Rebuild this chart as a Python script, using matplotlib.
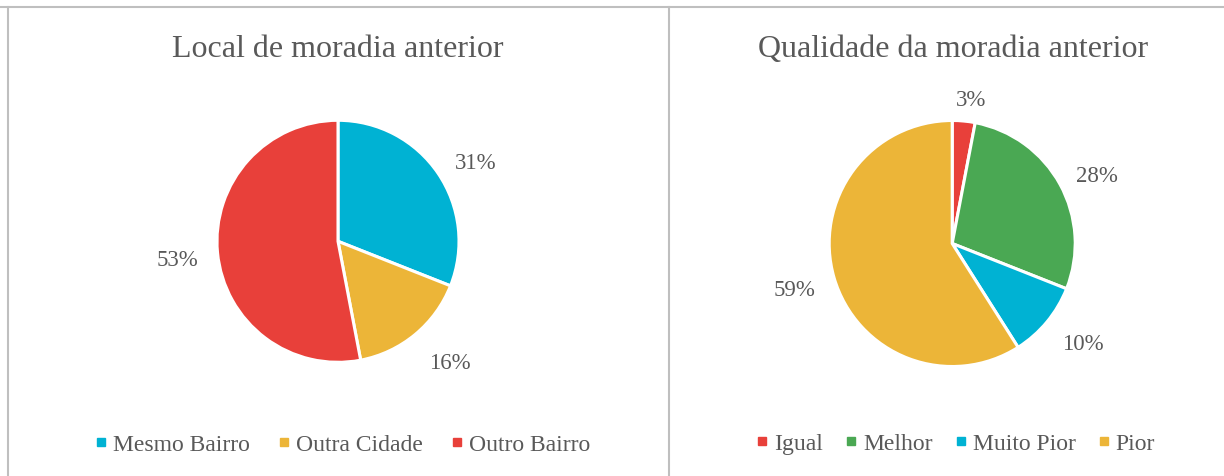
import math
import matplotlib
matplotlib.use("Agg")
import matplotlib.pyplot as plt
from matplotlib.lines import Line2D

# ---- data ----
left_title = "Local de moradia anterior"
left_labels = ["Mesmo Bairro", "Outra Cidade", "Outro Bairro"]
left_values = [31, 16, 53]

right_title = "Qualidade da moradia anterior"
right_labels = ["Igual", "Melhor", "Muito Pior", "Pior"]
right_values = [3, 28, 10, 59]

# ---- style ----
RED = "#E8403A"
CYAN = "#00B2D3"
YELLOW = "#ECB538"
GREEN = "#4AA853"
TEXT = "#595959"
BORDER = "#BFBFBF"
left_colors = [CYAN, YELLOW, RED]
right_colors = [RED, GREEN, CYAN, YELLOW]
# (distance in radii, angle shift in degrees) for data labels
left_label_pos = [(1.316, -3.9), (1.349, 3.7), (1.338, 0.5)]
right_label_pos = [(1.193, -2.0), (1.309, -3.2), (1.331, 2.8), (1.336, -0.5)]

W, H = 1224, 477
DPI = 100
plt.rcParams['font.family'] = ['Liberation Serif', 'DejaVu Serif']

fig = plt.figure(figsize=(W / DPI, H / DPI), dpi=DPI)
fig.patch.set_facecolor("white")


def fx(x):
    return x / W


def fy(y):
    return 1 - y / H


fig.add_artist(Line2D([0, 1], [fy(8), fy(8)], color=BORDER, lw=1.5))
fig.add_artist(Line2D([fx(8), fx(8)], [fy(8), 0], color=BORDER, lw=1.5))
fig.add_artist(Line2D([fx(669), fx(669)], [fy(8), 0], color=BORDER, lw=1.5))

LABEL_FS = 16.5
DIGIT_HALF_PX = 7.5


def draw_pie(cx, cy, r, values, colors, lpos, title, tcx, labels,
             legend_cx, legend_y, colspace):
    ax = fig.add_axes([fx(cx - r), fy(cy + r), 2 * r / W, 2 * r / H])
    wedges, texts, autotexts = ax.pie(
        values, colors=colors, startangle=90, counterclock=False,
        radius=1.0, autopct=lambda p: f"{p:.0f}%", pctdistance=1.0,
        wedgeprops=dict(edgecolor="white", linewidth=2.2),
        textprops=dict(color=TEXT, fontsize=LABEL_FS),
    )
    for w, t, (d, shift) in zip(wedges, autotexts, lpos):
        ang = math.radians((w.theta1 + w.theta2) / 2 + shift)
        t.set_position((d * math.cos(ang),
                        d * math.sin(ang) - DIGIT_HALF_PX / r))
        t.set_ha("center")
        t.set_va("baseline")
    ax.set_xlim(-1, 1)
    ax.set_ylim(-1, 1)
    ax.set_aspect("equal")
    ax.axis("off")
    fig.text(fx(tcx), fy(57), title, ha="center", va="baseline",
             fontsize=23, color=TEXT)
    handles = [Line2D([0], [0], marker="s", linestyle="none",
                      markersize=5.2, markerfacecolor=c, markeredgecolor=c)
               for c in colors]
    fig.legend(handles, labels, loc="center",
               bbox_to_anchor=(fx(legend_cx), fy(legend_y)),
               ncol=len(labels), frameon=False, fontsize=17,
               labelcolor=TEXT, handlelength=0.3, handletextpad=0.35,
               columnspacing=colspace, borderaxespad=0, borderpad=0)
    return ax


draw_pie(338, 242.3, 121, left_values, left_colors, left_label_pos,
         left_title, 338, left_labels, 344, 445, 1.3)
draw_pie(952.2, 244.5, 123, right_values, right_colors, right_label_pos,
         right_title, 953, right_labels, 957, 444, 1.05)

fig.savefig("out.png", dpi=DPI, facecolor="white")
